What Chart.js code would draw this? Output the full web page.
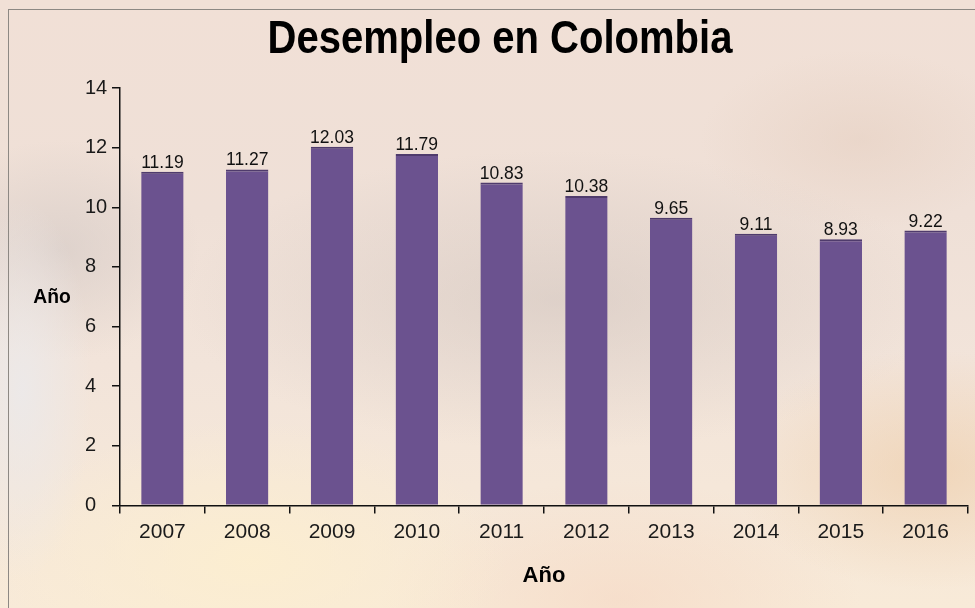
<!DOCTYPE html>
<html>
<head>
<meta charset="utf-8">
<script src="https://cdn.jsdelivr.net/npm/chart.js@4.4.1/dist/chart.umd.min.js"></script>
<style>
  html, body { margin: 0; padding: 0; overflow: hidden; }
  body {
    width: 975px; height: 608px; position: relative;
    background:
      radial-gradient(ellipse 70px 190px at 22px 390px, rgba(236,233,233,0.95), rgba(236,233,233,0) 100%),
      radial-gradient(ellipse 140px 110px at 60px 250px, rgba(210,200,196,0.6), rgba(210,200,196,0) 100%),
      radial-gradient(ellipse 380px 150px at 560px 300px, rgba(200,188,182,0.45), rgba(200,188,182,0) 100%),
      radial-gradient(ellipse 200px 120px at 930px 470px, rgba(236,200,160,0.55), rgba(236,200,160,0) 100%),
      radial-gradient(ellipse 260px 140px at 250px 560px, rgba(252,238,208,0.95), rgba(252,238,208,0) 100%),
      radial-gradient(ellipse 240px 120px at 620px 600px, rgba(245,215,195,0.6), rgba(245,215,195,0) 100%),
      radial-gradient(ellipse 160px 90px at 860px 140px, rgba(228,205,190,0.5), rgba(228,205,190,0) 100%),
      linear-gradient(180deg, #f1e0d6 0%, #efe0d7 35%, #f2e4da 60%, #f8ead8 100%);
  }
  #frame {
    position: absolute; left: 8px; top: 9px; width: 1000px; height: 700px;
    border-top: 1px solid #8d8883; border-left: 1px solid #8d8883;
    pointer-events: none;
  }
  canvas { position: absolute; left: 0; top: 0; }
</style>
</head>
<body>
<div id="frame"></div>
<canvas id="c" width="975" height="608"></canvas>
<script>
const chartTitle = 'Desempleo en Colombia';
const xAxisTitle = 'Año';
const yAxisTitle = 'Año';
const years = ['2007', '2008', '2009', '2010', '2011', '2012', '2013', '2014', '2015', '2016'];
const unemployment = [11.19, 11.27, 12.03, 11.79, 10.83, 10.38, 9.65, 9.11, 8.93, 9.22];
const yTicks = [0, 2, 4, 6, 8, 10, 12, 14];

const FONT = "'Liberation Sans', Arial, sans-serif";

const decorPlugin = {
  id: 'decor',
  afterDraw(chart) {
    const ctx = chart.ctx;
    ctx.save();
    ctx.fillStyle = '#000';
    ctx.font = 'bold 46px ' + FONT;
    ctx.textAlign = 'center';
    ctx.textBaseline = 'middle';
    ctx.translate(500, 40);
    ctx.scale(0.87, 1);
    ctx.fillText(chartTitle, 0, 0);
    ctx.restore();

    ctx.save();
    ctx.fillStyle = '#000';
    ctx.font = 'bold 21px ' + FONT;
    ctx.textAlign = 'center';
    ctx.textBaseline = 'middle';
    ctx.translate(52, 297);
    ctx.scale(0.92, 1);
    ctx.fillText(yAxisTitle, 0, 0);
    ctx.restore();
  },
  afterDatasetsDraw(chart) {
    const ctx = chart.ctx;
    const meta = chart.getDatasetMeta(0);
    ctx.save();
    ctx.fillStyle = '#111';
    ctx.font = '17.5px ' + FONT;
    ctx.textAlign = 'center';
    ctx.textBaseline = 'alphabetic';
    meta.data.forEach((bar, i) => {
      ctx.fillText(unemployment[i].toFixed(2), bar.x, bar.y - 4);
    });
    ctx.restore();
  }
};

new Chart(document.getElementById('c'), {
  type: 'bar',
  data: {
    labels: years,
    datasets: [{
      data: unemployment,
      backgroundColor: '#6b528f',
      borderColor: '#4f3b6c',
      borderWidth: { top: 2, left: 0, right: 0, bottom: 0 },
      borderSkipped: 'start',
      categoryPercentage: 1.0,
      barPercentage: 0.5
    }]
  },
  options: {
    responsive: false,
    animation: false,
    devicePixelRatio: 1,
    layout: { padding: { left: 85, right: 7, top: 88, bottom: 19 } },
    plugins: {
      legend: { display: false },
      title: { display: false },
      tooltip: { enabled: false }
    },
    scales: {
      x: {
        offset: true,
        grid: { offset: true, drawOnChartArea: false, drawTicks: true, tickLength: 8, color: '#111', lineWidth: 1.5 },
        border: { color: '#111', width: 1.5 },
        ticks: { color: '#1a1a1a', font: { size: 21, family: FONT }, padding: 6 },
        title: {
          display: true, text: xAxisTitle, color: '#000',
          font: { size: 22, weight: 'bold', family: FONT },
          padding: { top: 12, bottom: 0 }
        }
      },
      y: {
        min: 0, max: 14,
        afterBuildTicks(scale) { scale.ticks = yTicks.map(v => ({ value: v })); },
        afterFit(scale) { scale.width = 35; },
        grid: { drawOnChartArea: false, drawTicks: true, tickLength: 8, color: '#111', lineWidth: 1.5 },
        border: { color: '#111', width: 1.5 },
        ticks: { color: '#1a1a1a', font: { size: 20, family: FONT }, crossAlign: 'far' }
      }
    }
  },
  plugins: [decorPlugin]
});
</script>
</body>
</html>
